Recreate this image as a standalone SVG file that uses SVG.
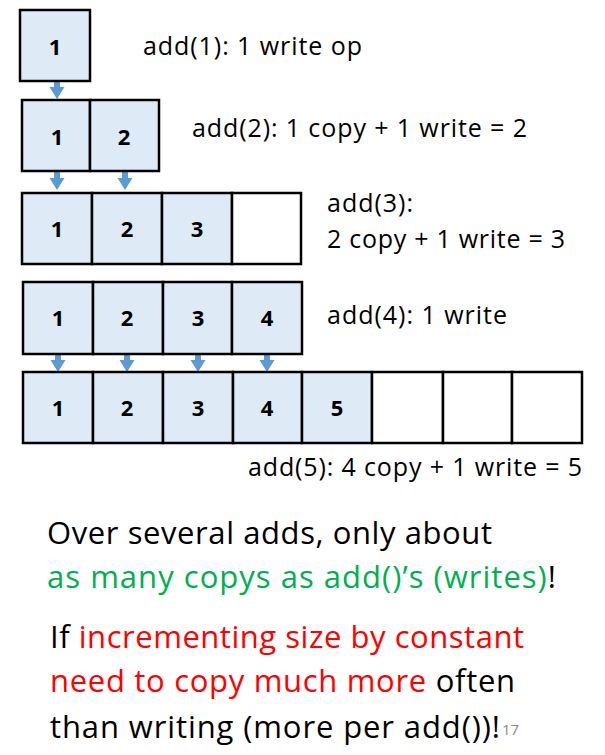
<svg xmlns="http://www.w3.org/2000/svg" width="605" height="755" viewBox="0 0 605 755">
<defs>
<style>
.cell{fill:#DEEAF6;stroke:#000;stroke-width:2.5}
.empty{fill:#fff;stroke:#000;stroke-width:2.5}
.num{font-family:"Open Sans","Noto Sans",sans-serif;font-weight:bold;font-size:22px;fill:#000;text-anchor:middle}
.lbl{font-family:"Open Sans","Noto Sans",sans-serif;font-size:25px;fill:#000}
.big{font-family:"Open Sans","Noto Sans",sans-serif;font-size:31px;fill:#000}
.arr{fill:#5B9BD5}
</style>
<g id="arrowShape"><path d="M-3 0 H3 V6 H7.5 L0 18 L-7.5 6 H-3 Z"/></g>
</defs>
<rect width="605" height="755" fill="#fff"/>

<g id="connectors" class="arr">
<use href="#arrowShape" x="57" y="81"/>
<use href="#arrowShape" x="57" y="172"/>
<use href="#arrowShape" x="125" y="172"/>
<use href="#arrowShape" x="58" y="354"/>
<use href="#arrowShape" x="127" y="354"/>
<use href="#arrowShape" x="198" y="354"/>
<use href="#arrowShape" x="267" y="354"/>
</g>

<g id="row1">
<rect class="cell" x="20" y="10" width="70" height="71"/>
<text class="num" x="55" y="55">1</text>
</g>

<g id="row2">
<rect class="cell" x="22" y="100" width="68" height="71"/>
<rect class="cell" x="90" y="100" width="69" height="71"/>
<text class="num" x="57" y="145">1</text>
<text class="num" x="124" y="145">2</text>
</g>

<g id="row3">
<rect class="cell" x="22" y="193" width="70" height="71"/>
<rect class="cell" x="92" y="193" width="70" height="71"/>
<rect class="cell" x="162" y="193" width="70" height="71"/>
<rect class="empty" x="232" y="193" width="69" height="71"/>
<text class="num" x="57" y="237">1</text>
<text class="num" x="127" y="237">2</text>
<text class="num" x="197" y="237">3</text>
</g>

<g id="row4">
<rect class="cell" x="23" y="282" width="70" height="72"/>
<rect class="cell" x="93" y="282" width="70" height="72"/>
<rect class="cell" x="163" y="282" width="69" height="72"/>
<rect class="cell" x="232" y="282" width="70" height="72"/>
<text class="num" x="58" y="326">1</text>
<text class="num" x="127" y="326">2</text>
<text class="num" x="198" y="326">3</text>
<text class="num" x="267" y="326">4</text>
</g>

<g id="row5">
<rect class="cell" x="23" y="372" width="70" height="71"/>
<rect class="cell" x="93" y="372" width="70" height="71"/>
<rect class="cell" x="163" y="372" width="70" height="71"/>
<rect class="cell" x="233" y="372" width="69" height="71"/>
<rect class="cell" x="302" y="372" width="70" height="71"/>
<rect class="empty" x="372" y="372" width="71" height="71"/>
<rect class="empty" x="443" y="372" width="69" height="71"/>
<rect class="empty" x="512" y="372" width="70" height="71"/>
<text class="num" x="58" y="416">1</text>
<text class="num" x="127" y="416">2</text>
<text class="num" x="198" y="416">3</text>
<text class="num" x="267" y="416">4</text>
<text class="num" x="337" y="416">5</text>
</g>

<g id="labels">
<text class="lbl" x="143" y="55" textLength="219" lengthAdjust="spacing">add(1): 1 write op</text>
<text class="lbl" x="192" y="137" textLength="335" lengthAdjust="spacing">add(2): 1 copy + 1 write = 2</text>
<text class="lbl" x="327" y="212" textLength="86" lengthAdjust="spacing">add(3):</text>
<text class="lbl" x="327" y="248" textLength="238" lengthAdjust="spacing">2 copy + 1 write = 3</text>
<text class="lbl" x="327" y="324" textLength="180" lengthAdjust="spacing">add(4): 1 write</text>
<text class="lbl" x="248" y="476" textLength="334" lengthAdjust="spacing">add(5): 4 copy + 1 write = 5</text>
</g>

<g id="notes">
<text class="big" x="47" y="544" textLength="445" lengthAdjust="spacing">Over several adds, only about</text>
<text class="big" x="47" y="588" textLength="509" lengthAdjust="spacing"><tspan fill="#00B050">as many copys as add()’s (writes)</tspan>!</text>
<text class="big" x="50" y="648" textLength="474" lengthAdjust="spacing">If <tspan fill="#FF0000">incrementing size by constant</tspan></text>
<text class="big" x="50" y="692" textLength="465" lengthAdjust="spacing"><tspan fill="#FF0000">need to copy much more</tspan> often</text>
<text class="big" x="50" y="738" textLength="450" lengthAdjust="spacing">than writing (more per add())!</text>
<text x="502" y="735" font-family="Open Sans, sans-serif" font-size="15" fill="#898989">17</text>
</g>
</svg>
